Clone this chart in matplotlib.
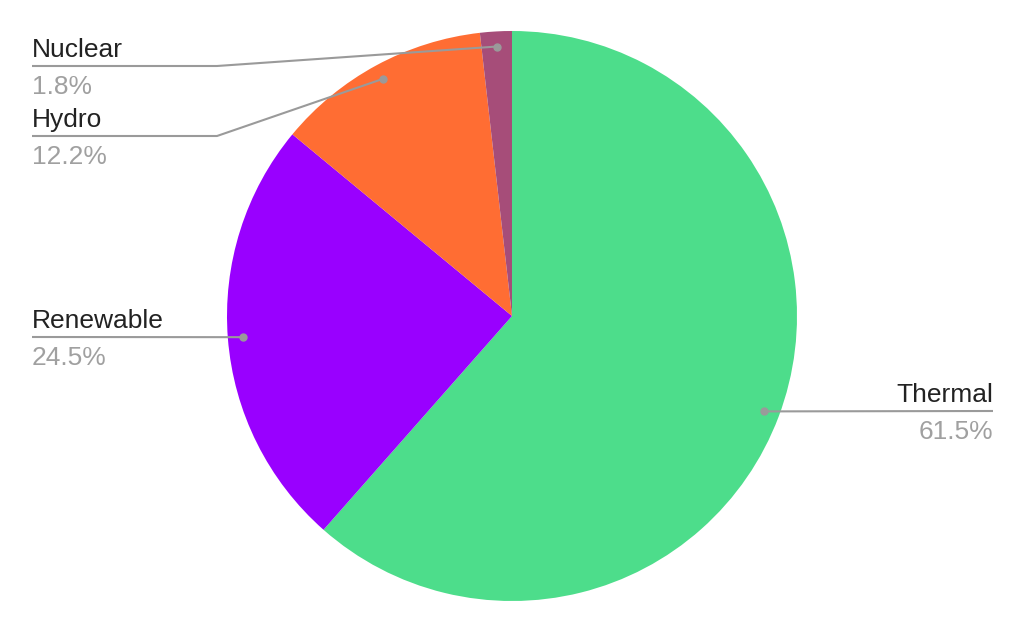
import numpy as np
import matplotlib.pyplot as plt

labels = ['Thermal', 'Renewable', 'Hydro', 'Nuclear']
values = [61.5, 24.5, 12.2, 1.8]
colors = ['#4ddd8b', '#9900ff', '#ff6d33', '#a64d79']
# where each label sits (pixel coords from top-left): x of text edge, y of the leader line
label_pos = [(993, 411, 'right'), (32, 337, 'left'), (32, 136, 'left'), (32, 66, 'left')]
elbow_x = [None, None, 217, 217]

W, H = 1024, 633
fig = plt.figure(figsize=(W / 100, H / 100), dpi=100)
ax = fig.add_axes([0, 0, 1, 1])
ax.set_xlim(0, W)
ax.set_ylim(0, H)
ax.set_aspect('equal')
ax.axis('off')

cx, cy, R = 512, H - 316, 285
wedges, _ = ax.pie(values, colors=colors, startangle=90, counterclock=False,
                   center=(cx, cy), radius=R, wedgeprops=dict(linewidth=0))
ax.set_xlim(0, W)
ax.set_ylim(0, H)

line_c = '#9a9a9a'
for w, lab, v, (tx, ly, ha), ex in zip(wedges, labels, values, label_pos, elbow_x):
    mid = np.deg2rad((w.theta1 + w.theta2) / 2)
    dx = cx + 0.947 * R * np.cos(mid)
    dy = cy + 0.947 * R * np.sin(mid)
    y = H - ly
    if ex is None:
        xs, ys = [dx, tx], [dy, y]
    else:
        xs, ys = [dx, ex, tx], [dy, y, y]
    ax.plot(xs, ys, color=line_c, lw=1.5, solid_capstyle='butt')
    ax.plot(dx, dy, 'o', color=line_c, ms=5)
    ax.text(tx, y + 9, lab, ha=ha, va='baseline', fontsize=19,
            family='Liberation Sans', color='#222222')
    ax.text(tx, y - 28, '%.1f%%' % v, ha=ha, va='baseline', fontsize=19,
            family='Liberation Sans', color='#a0a0a0')

fig.savefig('out.png', dpi=100)
